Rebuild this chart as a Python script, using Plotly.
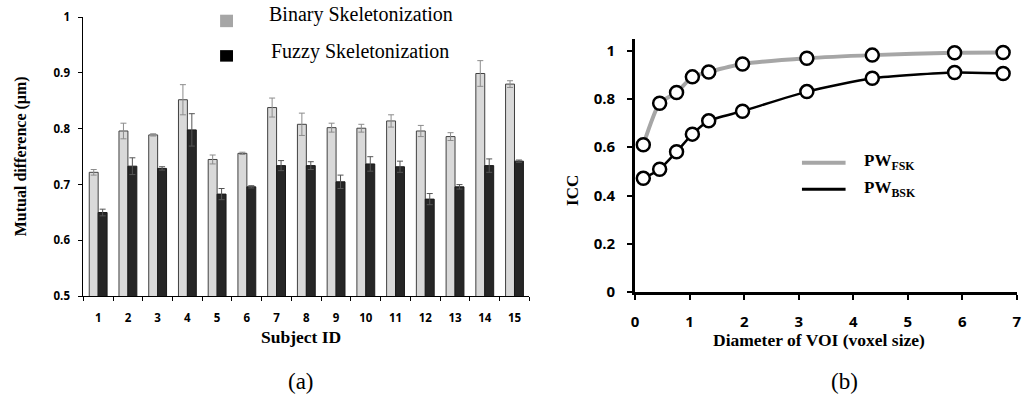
import plotly.graph_objects as go

W, H = 1028, 402

# ---------------- data ----------------
subjects = [str(i) for i in range(1, 16)]
binary_vals = [0.722, 0.796, 0.789, 0.852, 0.745, 0.756, 0.838, 0.808, 0.802, 0.801, 0.814, 0.796, 0.786, 0.899, 0.880]
binary_err = [0.005, 0.014, 0.002, 0.027, 0.008, 0.002, 0.017, 0.020, 0.008, 0.007, 0.011, 0.010, 0.007, 0.023, 0.006]
fuzzy_vals = [0.650, 0.733, 0.729, 0.798, 0.683, 0.696, 0.734, 0.734, 0.705, 0.737, 0.732, 0.674, 0.696, 0.734, 0.742]
fuzzy_err = [0.006, 0.015, 0.003, 0.029, 0.010, 0.002, 0.009, 0.007, 0.012, 0.013, 0.010, 0.010, 0.004, 0.012, 0.002]
a_yticks = [0.5, 0.6, 0.7, 0.8, 0.9, 1.0]
a_yticklabels = ["0.5", "0.6", "0.7", "0.8", "0.9", "1"]

voi_diam = [0.15, 0.45, 0.76, 1.05, 1.35, 1.97, 3.15, 4.35, 5.86, 6.75]
icc_fsk = [0.610, 0.782, 0.826, 0.891, 0.911, 0.944, 0.968, 0.981, 0.991, 0.992]
icc_bsk = [0.471, 0.509, 0.581, 0.654, 0.709, 0.749, 0.830, 0.885, 0.909, 0.905]
b_xticks = [0, 1, 2, 3, 4, 5, 6, 7]
b_yticks = [0, 0.2, 0.4, 0.6, 0.8, 1]
b_yticklabels = ["0", "0.2", "0.4", "0.6", "0.8", "1"]


def px(x):
    return x / W


def py(y):
    return 1 - y / H


def bold(labels):
    return ["<b>%s</b>" % t for t in labels]


fig = go.Figure()

# ---------------- panel (a) ----------------
fig.add_trace(go.Bar(
    x=subjects, y=binary_vals, name="Binary Skeletonization",
    marker=dict(color="#d9d9d9", line=dict(color="#404040", width=1)),
    error_y=dict(type="data", array=binary_err, color="#8c8c8c", thickness=1, width=3),
    xaxis="x", yaxis="y", showlegend=False,
))
fig.add_trace(go.Bar(
    x=subjects, y=fuzzy_vals, name="Fuzzy Skeletonization",
    marker=dict(color="#262626", line=dict(color="#1a1a1a", width=1)),
    error_y=dict(type="data", array=fuzzy_err, color="#555555", thickness=1, width=3),
    xaxis="x", yaxis="y", showlegend=False,
))

# ---------------- panel (b) ----------------
fig.add_trace(go.Scatter(
    x=voi_diam, y=icc_fsk, mode="lines+markers", name="PW_FSK",
    line=dict(color="#a6a6a6", width=4, shape="spline", smoothing=0.6),
    marker=dict(symbol="circle", size=13, color="white", line=dict(color="black", width=2.5)),
    xaxis="x2", yaxis="y2", showlegend=False,
))
fig.add_trace(go.Scatter(
    x=voi_diam, y=icc_bsk, mode="lines+markers", name="PW_BSK",
    line=dict(color="black", width=2.5, shape="spline", smoothing=0.6),
    marker=dict(symbol="circle", size=13, color="white", line=dict(color="black", width=2.5)),
    xaxis="x2", yaxis="y2", showlegend=False,
))

tickfont_a = dict(family="Open Sans", size=11.5, color="black")
tickfont_b = dict(family="Open Sans", size=15, color="black")

fig.update_layout(
    width=W, height=H,
    margin=dict(l=0, r=0, t=0, b=0),
    paper_bgcolor="white", plot_bgcolor="white",
    barmode="group", bargap=0.4, bargroupgap=0,
    xaxis=dict(
        domain=[px(80), px(530)], type="category", tickson="boundaries",
        tickvals=subjects, ticktext=bold(subjects),
        showline=True, linecolor="black", linewidth=1,
        ticks="outside", ticklen=4, tickcolor="black", ticklabelstandoff=11,
        tickfont=tickfont_a, showgrid=False, zeroline=False,
    ),
    yaxis=dict(
        domain=[py(301), py(9.5)], range=[0.5, 1.0],
        tickvals=a_yticks, ticktext=bold(a_yticklabels),
        showline=True, linecolor="black", linewidth=1,
        ticks="outside", ticklen=4, tickcolor="black", ticklabelstandoff=6,
        tickfont=tickfont_a, showgrid=False, zeroline=False,
    ),
    xaxis2=dict(
        domain=[px(636.7), px(1021.7)], range=[0, 7],
        tickvals=b_xticks, ticktext=bold([str(v) for v in b_xticks]),
        showline=True, linecolor="black", linewidth=3,
        ticks="outside", ticklen=5, tickwidth=2, tickcolor="black", ticklabelstandoff=9,
        tickfont=tickfont_b, showgrid=False, zeroline=False,
        anchor="y2",
    ),
    yaxis2=dict(
        domain=[py(296.7), py(32.3)], range=[0, 1.048],
        tickvals=b_yticks, ticktext=bold(b_yticklabels),
        showline=True, linecolor="black", linewidth=3,
        ticks="outside", ticklen=5, tickwidth=2, tickcolor="black", ticklabelstandoff=9,
        tickfont=tickfont_b, showgrid=False, zeroline=False,
        anchor="x2",
    ),
)

SERIF = "Liberation Serif, Times New Roman, serif"
serif = dict(family=SERIF, color="black")

annotations = [
    dict(x=px(18), y=py(155), text="<b>Mutual difference (μm)</b>", textangle=-90,
         font=dict(size=16, **serif)),
    dict(x=px(300), y=py(344), text="<b>Subject ID</b>", font=dict(size=17.5, **serif)),
    dict(x=px(300), y=py(390), text="(a)", font=dict(size=23, **serif)),
    dict(x=px(265), y=py(7), text="Binary Skeletonization", xanchor="left",
         font=dict(size=20, **serif)),
    dict(x=px(267), y=py(45), text="Fuzzy Skeletonization", xanchor="left",
         font=dict(size=20, **serif)),
    dict(x=px(574), y=py(190), text="<b>ICC</b>", textangle=-90, font=dict(size=17, **serif)),
    dict(x=px(822), y=py(347), text="<b>Diameter of VOI (voxel size)</b>", font=dict(size=17.5, **serif)),
    dict(x=px(848), y=py(390), text="(b)", font=dict(size=23, **serif)),
    dict(x=px(866), y=py(161), text="<b>PW<sub>FSK</sub></b>", xanchor="left",
         font=dict(size=17, **serif)),
    dict(x=px(866), y=py(189), text="<b>PW<sub>BSK</sub></b>", xanchor="left",
         font=dict(size=17, **serif)),
]
for a in annotations:
    a.update(xref="paper", yref="paper", showarrow=False, yanchor="middle")
    a.setdefault("xanchor", "center")
fig.update_layout(annotations=annotations)

shapes = [
    dict(type="rect", x0=px(218), x1=px(231), y0=py(20), y1=py(7),
         fillcolor="#a6a6a6", line=dict(width=0)),
    dict(type="rect", x0=px(218), x1=px(231), y0=py(56), y1=py(44),
         fillcolor="#000000", line=dict(width=0)),
    dict(type="line", x0=px(805), x1=px(849), y0=py(161.7), y1=py(161.7),
         line=dict(color="#a6a6a6", width=4)),
    dict(type="line", x0=px(805), x1=px(849), y0=py(189.3), y1=py(189.3),
         line=dict(color="black", width=3)),
]
for s in shapes:
    s.update(xref="paper", yref="paper")
fig.update_layout(shapes=shapes)

fig.write_html("out.html")
